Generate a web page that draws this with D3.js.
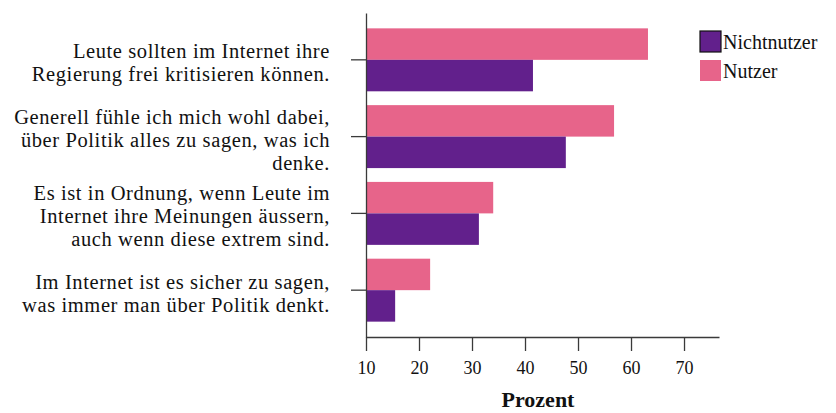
<!DOCTYPE html>
<html>
<head>
<meta charset="utf-8">
<script src="https://cdn.jsdelivr.net/npm/d3@7"></script>
<style>
  body { margin: 0; background: #fff; }
  svg { display: block; }
</style>
</head>
<body>
<div id="chart"></div>
<script>
// data
var categories = [
  "Leute sollten im Internet ihre\nRegierung frei kritisieren können.",
  "Generell fühle ich mich wohl dabei,\nüber Politik alles zu sagen, was ich\ndenke.",
  "Es ist in Ordnung, wenn Leute im\nInternet ihre Meinungen äussern,\nauch wenn diese extrem sind.",
  "Im Internet ist es sicher zu sagen,\nwas immer man über Politik denkt."
];
var series = ["Nutzer", "Nichtnutzer"];
var nutzer = [63.2, 56.8, 34.0, 22.1];
var nichtnutzer = [41.5, 47.7, 31.3, 15.5];
var xTicks = [10, 20, 30, 40, 50, 60, 70];
var colors = {Nutzer: "#e7648a", Nichtnutzer: "#62208c"};

var font = "'Liberation Serif', serif";
var svgWidth = 836, svgHeight = 413;
var svg = d3.select("#chart").append("svg").attr("width", svgWidth).attr("height", svgHeight);

var x = d3.scaleLinear().domain([10, 76.6]).range([366, 719]);
var y = d3.scaleBand().domain(categories).range([13, 337]).paddingInner(0.18).paddingOuter(0.2);
var ySub = d3.scaleBand().domain(series).range([0, y.bandwidth()]);

var rows = categories.map(function(c, i) {
  return {cat: c, Nutzer: nutzer[i], Nichtnutzer: nichtnutzer[i]};
});

// bars
var groups = svg.selectAll("g.cat").data(rows).enter().append("g")
  .attr("class", "cat")
  .attr("transform", d => `translate(0,${y(d.cat)})`);

groups.selectAll("rect").data(d => series.map(s => ({key: s, value: d[s]})))
  .enter().append("rect")
  .attr("x", x(10))
  .attr("y", d => ySub(d.key))
  .attr("width", d => x(d.value) - x(10))
  .attr("height", ySub.bandwidth())
  .attr("fill", d => colors[d.key]);

// axes
var yAxis = svg.append("g").attr("transform", `translate(${x(10)},0)`)
  .call(d3.axisLeft(y).tickSize(15).tickSizeOuter(0).tickFormat(""));
var xAxis = svg.append("g").attr("transform", `translate(0,337)`)
  .call(d3.axisBottom(x).tickValues(xTicks).tickSize(14).tickSizeOuter(0).tickPadding(10));

svg.selectAll(".domain, .tick line").attr("stroke", "#3a3a3a").attr("stroke-width", 1.3);
xAxis.selectAll("text").attr("font-family", font).attr("font-size", "18px").attr("fill", "#111");

// category labels
categories.forEach(function(c) {
  var lines = c.split("\n");
  var mid = y(c) + y.bandwidth() / 2;
  var t = svg.append("text").attr("text-anchor", "end")
    .attr("font-family", font).attr("font-size", "20.5px").attr("letter-spacing", "0.6px")
    .attr("fill", "#111");
  lines.forEach(function(line, i) {
    t.append("tspan").attr("x", 330)
      .attr("y", mid + 10 + (i - (lines.length - 1) / 2) * 23)
      .text(line);
  });
});

// axis title
svg.append("text").attr("x", 538).attr("y", 407).attr("text-anchor", "middle")
  .attr("font-family", font).attr("font-weight", "bold").attr("font-size", "22px")
  .attr("fill", "#111").text("Prozent");

// legend
var legendItems = ["Nichtnutzer", "Nutzer"];
var legend = svg.selectAll("g.legend").data(legendItems).enter().append("g")
  .attr("class", "legend")
  .attr("transform", (d, i) => `translate(700,${31 + i * 29})`);
legend.append("rect").attr("width", 21).attr("height", 21)
  .attr("fill", d => colors[d])
  .attr("stroke", d => d === "Nichtnutzer" ? "#111" : "none").attr("stroke-width", 1.2);
legend.append("text").attr("x", 23).attr("y", 18)
  .attr("font-family", font).attr("font-size", "20px").attr("fill", "#111").text(d => d);
</script>
</body>
</html>
